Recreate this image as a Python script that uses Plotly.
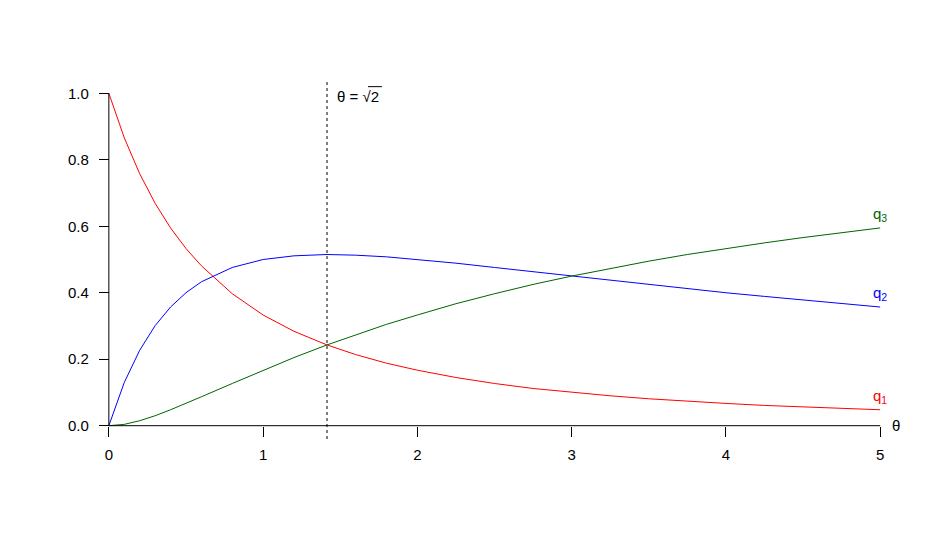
import plotly.graph_objects as go

# values
theta = [0, 0.1, 0.2, 0.3, 0.4, 0.5, 0.6, 0.8, 1.0, 1.2, 1.414, 1.6, 1.8, 2.0,
         2.25, 2.5, 2.75, 3.0, 3.25, 3.5, 3.75, 4.0, 4.25, 4.5, 4.75, 5.0]
q1 = [1.0, 0.866, 0.758, 0.669, 0.595, 0.533, 0.481, 0.397, 0.333, 0.284, 0.243,
      0.214, 0.188, 0.167, 0.145, 0.127, 0.112, 0.100, 0.090, 0.081, 0.073, 0.067,
      0.061, 0.056, 0.052, 0.048]
q2 = [0.0, 0.130, 0.227, 0.301, 0.357, 0.400, 0.433, 0.476, 0.500, 0.511, 0.515,
      0.513, 0.508, 0.500, 0.489, 0.476, 0.463, 0.450, 0.437, 0.424, 0.412, 0.400,
      0.389, 0.378, 0.367, 0.357]
q3 = [0.0, 0.004, 0.015, 0.030, 0.048, 0.067, 0.087, 0.127, 0.167, 0.205, 0.243,
      0.274, 0.305, 0.333, 0.367, 0.397, 0.425, 0.450, 0.473, 0.495, 0.515, 0.533,
      0.550, 0.566, 0.581, 0.595]
names = ['q<sub>1</sub>', 'q<sub>2</sub>', 'q<sub>3</sub>']
colors = ['red', 'blue', '#006400']
vline_x = 2 ** 0.5

font = dict(family='Liberation Sans, Arial, sans-serif', size=15, color='black')

fig = go.Figure()
for q, name, col in zip([q1, q2, q3], names, colors):
    fig.add_trace(go.Scatter(x=theta, y=q, mode='lines', line=dict(color=col, width=1),
                             showlegend=False, hoverinfo='skip'))
    fig.add_annotation(x=theta[-1], y=q[-1] + 0.04, text=name, showarrow=False,
                       font=dict(family=font['family'], size=15, color=col),
                       xanchor='center', yanchor='middle')

# axes drawn like R axis(pos=0): line from first to last tick
fig.add_shape(type='line', x0=0, x1=5, y0=0, y1=0, line=dict(color='black', width=1))
fig.add_shape(type='line', x0=0, x1=0, y0=0, y1=1, line=dict(color='black', width=1))
fig.add_shape(type='line', x0=vline_x, x1=vline_x, y0=-0.04, y1=1.04,
              line=dict(color='black', width=1, dash='dot'))

fig.add_annotation(x=vline_x + 0.05, y=0.99, text='θ = √2', showarrow=False,
                   xanchor='left', yanchor='middle', font=font)
# bar over the 2 of the square root
fig.add_shape(type='line', x0=1.68, x1=1.77, y0=1.02, y1=1.02,
              line=dict(color='black', width=1))
fig.add_annotation(x=5.1, y=0, text='θ', showarrow=False,
                   xanchor='center', yanchor='middle', font=font)

fig.update_layout(
    width=952, height=537,
    margin=dict(l=70, r=49, t=72, b=106),
    plot_bgcolor='white', paper_bgcolor='white',
    font=font,
    xaxis=dict(range=[-0.2, 5.2], tickvals=[0, 1, 2, 3, 4, 5], ticks='outside', ticklen=10,
               tickcolor='black', tickwidth=1, showgrid=False, zeroline=False, showline=False,
               anchor='free', position=0.04 / 1.08, tickfont=font, ticklabelstandoff=5),
    yaxis=dict(range=[-0.04, 1.04], tickvals=[0, 0.2, 0.4, 0.6, 0.8, 1.0],
               ticktext=['0.0', '0.2', '0.4', '0.6', '0.8', '1.0'], ticks='outside', ticklen=10,
               tickcolor='black', tickwidth=1, showgrid=False, zeroline=False, showline=False,
               anchor='free', position=0.2 / 5.4, tickfont=font, ticklabelstandoff=7),
)
fig.write_html('out.html')
